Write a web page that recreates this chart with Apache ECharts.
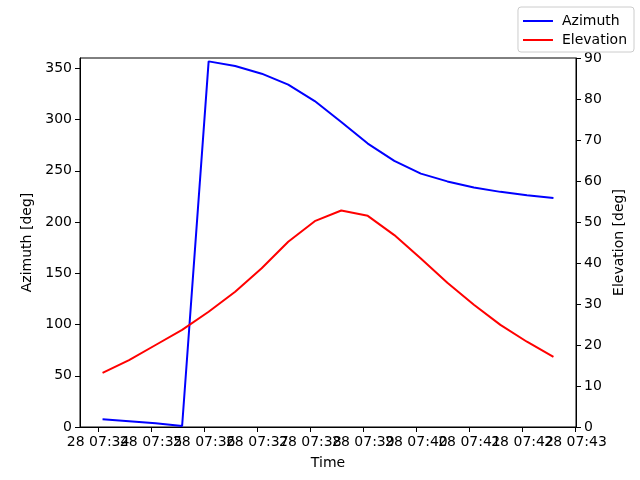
<!DOCTYPE html>
<html>
<head>
<meta charset="utf-8">
<script src="https://cdn.jsdelivr.net/npm/echarts@6/dist/echarts.min.js"></script>
<style>
    html, body { margin: 0; padding: 0; background: #fff; }
    #chart-container { width: 640px; height: 480px; }
</style>
</head>
<body>
<div id="chart-container"></div>
<script>
// sample times (day 28), every 30 s
var times = ['07:34:05', '07:34:35', '07:35:05', '07:35:35', '07:36:05', '07:36:35',
    '07:37:05', '07:37:35', '07:38:05', '07:38:35', '07:39:05', '07:39:35',
    '07:40:05', '07:40:35', '07:41:05', '07:41:35', '07:42:05', '07:42:35'];
var azimuth = [7.5, 5.6, 3.6, 1.0, 356.7, 352.2, 344.7, 334.0, 318.0,
    297.6, 276.5, 259.6, 247.2, 239.6, 233.6, 229.4, 226.1, 223.5];
var elevation = [13.2, 16.3, 20.0, 23.7, 28.1, 33.0, 38.7, 45.2, 50.2,
    52.8, 51.5, 46.8, 41.1, 35.2, 29.8, 24.9, 20.8, 17.1];
var xTickLabels = ['28 07:34', '28 07:35', '28 07:36', '28 07:37', '28 07:38',
    '28 07:39', '28 07:40', '28 07:41', '28 07:42', '28 07:43'];
var azTicks = [0, 50, 100, 150, 200, 250, 300, 350];

(function () {
    var FONT = 'DejaVu Sans';
    var FS = 14;
    var domChart = document.getElementById('chart-container');
    var ioChart = echarts.init(domChart);

    // seconds after 07:34:00
    function toSec(hms) {
        var p = hms.split(':');
        return (+p[0] - 7) * 3600 + (+p[1] - 34) * 60 + (+p[2] || 0);
    }
    var xSec = times.map(toSec);
    var xTickSec = xTickLabels.map(function (s) { return toSec(s.split(' ')[1]); });
    var labelMap = {};
    xTickSec.forEach(function (v, i) { labelMap[v] = xTickLabels[i]; });
    // labels overlap like in the original; split them over two axes so none get hidden
    var evenSec = xTickSec.filter(function (v, i) { return i % 2 === 0; });
    var oddSec = xTickSec.filter(function (v, i) { return i % 2 === 1; });

    // matplotlib style 5% margin
    var span = xSec[xSec.length - 1] - xSec[0];
    var xMin = xSec[0] - span * 0.05;
    var xMax = xSec[xSec.length - 1] + span * 0.05;

    function pair(vals) {
        return vals.map(function (v, i) { return [xSec[i], v]; });
    }

    var axisBase = {
        axisLine: { show: true, onZero: false, lineStyle: { color: '#000', width: 1 } },
        axisTick: { show: true, length: 5, inside: false, lineStyle: { color: '#000', width: 1 } },
        splitLine: { show: false },
        nameTextStyle: { color: '#000', fontFamily: FONT, fontSize: FS }
    };
    var labelBase = { color: '#000', fontFamily: FONT, fontSize: FS, margin: 8 };
    function fmtTime(v) { return labelMap[v] || ''; }

    var chartOption = {
        backgroundColor: '#fff',
        animation: false,
        textStyle: { fontFamily: FONT },
        grid: {
            left: 80, right: 64, top: 58, bottom: 53,
            show: true, borderColor: '#000', borderWidth: 1, backgroundColor: 'transparent'
        },
        legend: {
            orient: 'vertical',
            right: 6, top: 7,
            padding: [7, 7, 5, 5],
            itemGap: 5,
            icon: 'rect',
            itemWidth: 30, itemHeight: 2,
            borderColor: '#cccccc', borderWidth: 1, borderRadius: 3,
            backgroundColor: '#fff',
            textStyle: { color: '#000', fontFamily: FONT, fontSize: FS, padding: [0, 0, 0, 4] },
            data: ['Azimuth', 'Elevation']
        },
        xAxis: [
            echarts.util.merge({
                type: 'value', position: 'bottom',
                min: xMin, max: xMax,
                name: 'Time', nameLocation: 'middle', nameGap: 29,
                axisTick: { customValues: xTickSec },
                axisLabel: echarts.util.merge({
                    customValues: evenSec, showMinLabel: true, showMaxLabel: true,
                    formatter: fmtTime
                }, labelBase)
            }, axisBase, false),
            {
                type: 'value', position: 'bottom',
                min: xMin, max: xMax,
                axisLine: { show: false, onZero: false },
                axisTick: { show: false },
                splitLine: { show: false },
                axisLabel: echarts.util.merge({
                    customValues: oddSec, showMinLabel: true, showMaxLabel: true,
                    formatter: fmtTime
                }, labelBase)
            }
        ],
        yAxis: [
            echarts.util.merge({
                type: 'value', position: 'left',
                min: 0, max: 360,
                name: 'Azimuth [deg]', nameLocation: 'middle', nameGap: 38, nameRotate: 90,
                axisTick: { customValues: azTicks },
                axisLabel: echarts.util.merge({ customValues: azTicks }, labelBase)
            }, axisBase, false),
            echarts.util.merge({
                type: 'value', position: 'right',
                min: 0, max: 90, interval: 10,
                name: 'Elevation [deg]', nameLocation: 'middle', nameGap: 27, nameRotate: 90,
                axisLabel: labelBase
            }, axisBase, false)
        ],
        series: [
            {
                name: 'Azimuth', type: 'line', xAxisIndex: 0, yAxisIndex: 0,
                symbol: 'none', showSymbol: false,
                lineStyle: { color: '#0000ff', width: 2 },
                itemStyle: { color: '#0000ff' },
                data: pair(azimuth)
            },
            {
                name: 'Elevation', type: 'line', xAxisIndex: 0, yAxisIndex: 1,
                symbol: 'none', showSymbol: false,
                lineStyle: { color: '#ff0000', width: 2 },
                itemStyle: { color: '#ff0000' },
                data: pair(elevation)
            }
        ]
    };
    ioChart.setOption(chartOption);
})();
</script>
</body>
</html>
